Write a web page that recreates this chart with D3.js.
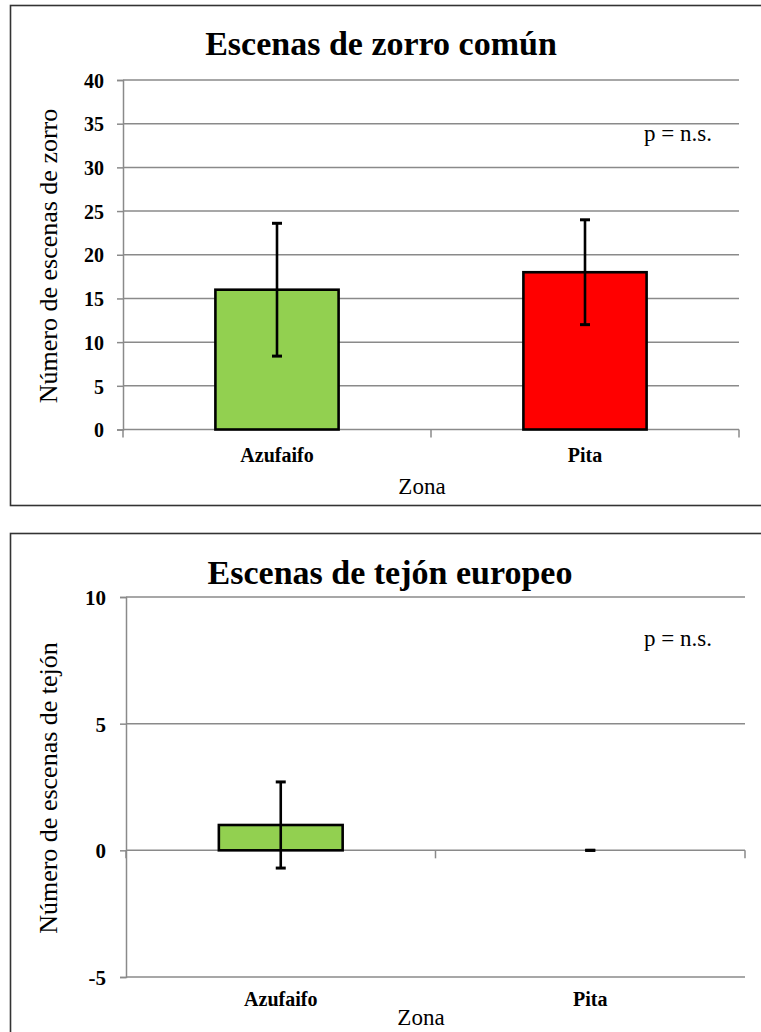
<!DOCTYPE html>
<html>
<head>
<meta charset="utf-8">
<script src="https://cdn.jsdelivr.net/npm/d3@7"></script>
<style>
  html, body { margin: 0; padding: 0; background: #fff; }
  svg { display: block; }
</style>
</head>
<body>
<svg id="fig" width="761" height="1032"></svg>
<script>
const SERIF = "'Liberation Serif'";

// Zonas muestreadas
const zonas = ["Azufaifo", "Pita"];
const colores = ["#92d050", "#ff0000"];

// Zorro común: media y error por zona
const zorroMedia = [16, 18];
const zorroError = [7.6, 6];
const zorroTicks = [0, 5, 10, 15, 20, 25, 30, 35, 40];

// Tejón europeo: media y error por zona
const tejonMedia = [1, 0];
const tejonError = [1.7, 0];
const tejonTicks = [-5, 0, 5, 10];

const svg = d3.select("#fig");

function label(sel, size, weight) {
  return sel
    .style("font-family", SERIF)
    .style("font-size", size + "px")
    .style("font-weight", weight)
    .attr("fill", "#000");
}

function panel(cfg) {
  const g = svg.append("g");

  // marco del gráfico
  g.append("rect")
    .attr("x", cfg.frame[0]).attr("y", cfg.frame[1])
    .attr("width", cfg.frame[2]).attr("height", cfg.frame[3])
    .attr("fill", "none").attr("stroke", "#333").attr("stroke-width", 1.6);

  const y = d3.scaleLinear().domain(cfg.domain).range([cfg.bottom, cfg.top]);
  const x = d3.scaleBand().domain(zonas).range([cfg.left, cfg.right])
    .paddingInner(0.6).paddingOuter(0.3);

  // eje vertical con marcas
  const yAxis = d3.axisLeft(y).tickValues(cfg.ticks).tickSize(6).tickFormat(d => String(d));
  const ya = g.append("g").attr("transform", `translate(${cfg.left},0)`).call(yAxis);
  ya.attr("font-family", null).attr("font-size", null);
  ya.select(".domain").attr("stroke", "#8a8a8a").attr("stroke-width", 1.5);
  ya.selectAll(".tick line").attr("stroke", "#8a8a8a").attr("stroke-width", 1.5);
  label(ya.selectAll(".tick text"), cfg.tickFont, "bold")
    .attr("x", cfg.tickLabelX - cfg.left)
    .attr("dy", "0.36em");

  // líneas de cuadrícula
  g.append("g").selectAll("line")
    .data(cfg.ticks)
    .join("line")
    .attr("x1", cfg.left).attr("x2", cfg.right)
    .attr("y1", d => y(d)).attr("y2", d => y(d))
    .attr("stroke", "#8a8a8a").attr("stroke-width", 1.5);

  // eje horizontal en y = 0, con marcas entre categorías
  const y0 = y(0);
  const step = x.step();
  const bounds = d3.range(zonas.length + 1).map(i => cfg.left + i * step);
  g.append("g").selectAll("line")
    .data(bounds)
    .join("line")
    .attr("x1", d => d).attr("x2", d => d)
    .attr("y1", y0).attr("y2", y0 + 8)
    .attr("stroke", "#8a8a8a").attr("stroke-width", 1.5);

  // barras
  g.append("g").selectAll("rect")
    .data(zonas.filter((d, i) => cfg.media[i] !== 0))
    .join("rect")
    .attr("x", d => x(d))
    .attr("width", x.bandwidth())
    .attr("y", d => y(Math.max(0, cfg.media[zonas.indexOf(d)])))
    .attr("height", d => Math.abs(y(cfg.media[zonas.indexOf(d)]) - y0))
    .attr("fill", d => colores[zonas.indexOf(d)])
    .attr("stroke", "#000").attr("stroke-width", 2.6);

  // barras de error
  const eb = g.append("g");
  zonas.forEach((d, i) => {
    const cx = x(d) + x.bandwidth() / 2;
    const hi = y(cfg.media[i] + cfg.error[i]);
    const lo = y(cfg.media[i] - cfg.error[i]);
    eb.append("line").attr("x1", cx).attr("x2", cx).attr("y1", hi).attr("y2", lo)
      .attr("stroke", "#000").attr("stroke-width", 2.6);
    [hi, lo].forEach(v => {
      eb.append("line").attr("x1", cx - 5).attr("x2", cx + 5).attr("y1", v).attr("y2", v)
        .attr("stroke", "#000").attr("stroke-width", 3);
    });
  });

  // etiquetas de categoría
  const xAxis = d3.axisBottom(x).tickSize(0);
  const xa = g.append("g").attr("transform", `translate(0,${cfg.catY})`).call(xAxis);
  xa.attr("font-family", null).attr("font-size", null);
  xa.select(".domain").remove();
  label(xa.selectAll(".tick text"), cfg.catFont, "bold")
    .attr("y", 0).attr("dy", 0);

  // títulos
  label(g.append("text"), 34, "bold")
    .attr("x", cfg.titleX).attr("y", cfg.titleY)
    .attr("text-anchor", "middle")
    .text(cfg.title);

  label(g.append("text"), 26, "normal")
    .attr("transform", `translate(${cfg.yTitleX},${cfg.yTitleY}) rotate(-90)`)
    .attr("text-anchor", "middle")
    .text(cfg.yTitle);

  label(g.append("text"), 23, "normal")
    .attr("x", cfg.zonaX).attr("y", cfg.zonaY)
    .attr("text-anchor", "middle")
    .text("Zona");

  label(g.append("text"), 23, "normal")
    .attr("x", cfg.pX).attr("y", cfg.pY)
    .attr("text-anchor", "end")
    .text("p = n.s.");
}

panel({
  frame: [10.5, 5.5, 790, 500],
  domain: [0, 40], ticks: zorroTicks,
  top: 80, bottom: 429.5, left: 123, right: 739,
  media: zorroMedia, error: zorroError,
  tickLabelX: 104, tickFont: 20,
  catY: 462, catFont: 20,
  title: "Escenas de zorro común", titleX: 381, titleY: 55,
  yTitle: "Número de escenas de zorro", yTitleX: 57, yTitleY: 256,
  zonaX: 422, zonaY: 494,
  pX: 712, pY: 141
});

panel({
  frame: [10.5, 533.5, 790, 520],
  domain: [-5, 10], ticks: tejonTicks,
  top: 597, bottom: 977, left: 126, right: 745,
  media: tejonMedia, error: tejonError,
  tickLabelX: 106, tickFont: 21,
  catY: 1006, catFont: 20,
  title: "Escenas de tejón europeo", titleX: 390, titleY: 584,
  yTitle: "Número de escenas de tejón", yTitleX: 57, yTitleY: 788,
  zonaX: 421, zonaY: 1025,
  pX: 712, pY: 646
});
</script>
</body>
</html>
